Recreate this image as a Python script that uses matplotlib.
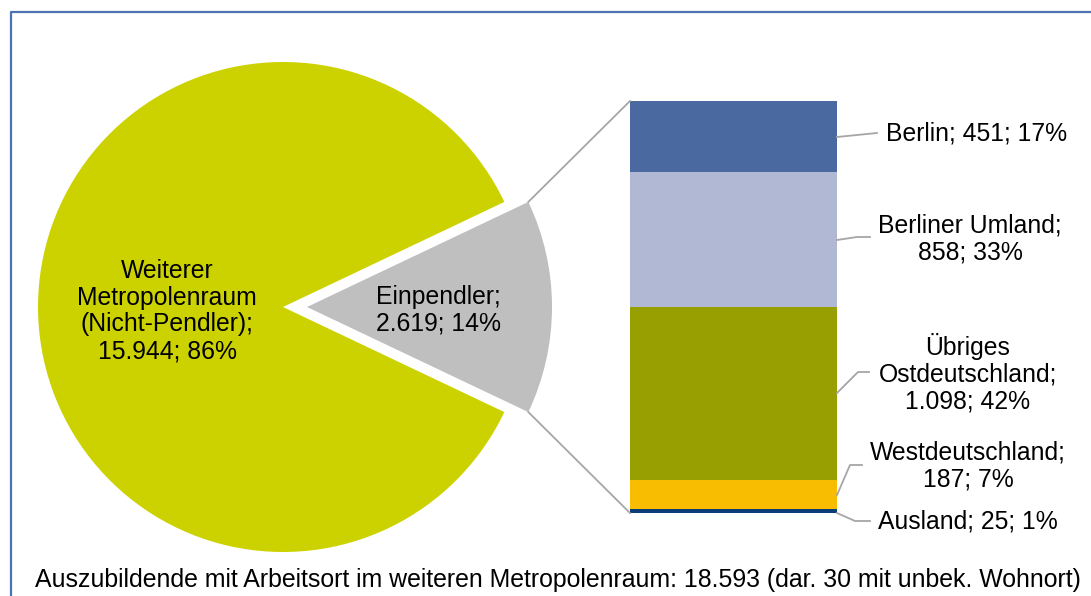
import numpy as np
import matplotlib
matplotlib.use("Agg")
import matplotlib.pyplot as plt

# pie: main share vs. commuters
pie_labels = ["Weiterer\nMetropolenraum\n(Nicht-Pendler);\n15.944; 86%", "Einpendler;\n2.619; 14%"]
pie_values = [15944, 2619]
pie_colors = ["#CCD200", "#BFBFBF"]

# bar: origin of commuters (bottom to top)
bar_names = ["Ausland", "Westdeutschland", "Übriges\nOstdeutschland", "Berliner Umland", "Berlin"]
bar_values = [25, 187, 1098, 858, 451]
bar_labels = ["Ausland; 25; 1%", "Westdeutschland;\n187; 7%", "Übriges\nOstdeutschland;\n1.098; 42%",
              "Berliner Umland;\n858; 33%", "Berlin; 451; 17%"]
bar_colors = ["#0B3C78", "#F8BC00", "#989F00", "#B0B8D4", "#4A69A0"]

footer = "Auszubildende mit Arbeitsort im weiteren Metropolenraum: 18.593 (dar. 30 mit unbek. Wohnort)"

W, H = 1091, 596
FS = 17.8
plt.rcParams["font.family"] = ["Liberation Sans", "DejaVu Sans"]

fig = plt.figure(figsize=(W / 100, H / 100), dpi=100)
ax = fig.add_axes([0, 0, 1, 1])


def py(y):
    # pixel row (from top) -> data y
    return H - y


# pie
cx, cy, r = 283, py(307), 245
grey_share = pie_values[1] / sum(pie_values) * 360
start = grey_share / 2
explode = [0, 24]  # data units, matplotlib does not scale it by radius
wedges, _ = ax.pie(pie_values, colors=pie_colors, startangle=start, radius=r,
                   center=(cx, cy), explode=explode, frame=True,
                   wedgeprops=dict(linewidth=0))

ax.text(167, py(311), pie_labels[0], ha="center", va="center", fontsize=FS, linespacing=1.15)
ax.text(376, py(310), pie_labels[1], ha="left", va="center", fontsize=FS, linespacing=1.15)

# stacked bar
bx0, bx1 = 630, 837
bar_bottom, bar_top = py(513), py(101)
k = (bar_top - bar_bottom) / sum(bar_values)
bottoms = bar_bottom + k * np.concatenate([[0], np.cumsum(bar_values)[:-1]])
ax.bar([(bx0 + bx1) / 2] * len(bar_values), np.array(bar_values) * k, width=bx1 - bx0,
       bottom=bottoms, color=bar_colors, linewidth=0)

# connectors from grey wedge to the bar
gx = cx + explode[1]
ang = np.radians(grey_share / 2)
tip_top = (gx + r * np.cos(ang), cy + r * np.sin(ang))
tip_bot = (gx + r * np.cos(ang), cy - r * np.sin(ang))
ax.plot([tip_top[0], bx0], [tip_top[1], bar_top], color="#A6A6A6", lw=1.3)
ax.plot([tip_bot[0], bx0], [tip_bot[1], bar_bottom], color="#A6A6A6", lw=1.3)

# leader lines and labels (bottom to top)
leaders = [
    [(837, 513), (855, 521), (870, 521)],
    [(837, 495), (850, 465), (862, 465)],
    [(837, 393), (858, 372), (869, 372)],
    [(837, 240), (857, 237), (870, 237)],
    [(837, 137), (877, 133), (877, 133)],
]
label_pos = [(968, 521), (968, 466), (968, 373), (970, 239), (977, 133)]
for pts, pos, lab in zip(leaders, label_pos, bar_labels):
    xs = [p[0] for p in pts]
    ys = [py(p[1]) for p in pts]
    ax.plot(xs, ys, color="#A6A6A6", lw=1.3)
    ax.text(pos[0], py(pos[1]), lab, ha="center", va="center", fontsize=FS, linespacing=1.15)

# footer
ax.text(35, py(580), footer, ha="left", va="center", fontsize=FS * 1.007)

# frame
ax.plot([11, 11, W], [0, py(12), py(12)], color="#4F72B0", lw=1.6)

ax.set_xlim(0, W)
ax.set_ylim(0, H)
ax.set_aspect("auto")
ax.axis("off")

fig.savefig("out.png", dpi=100)
